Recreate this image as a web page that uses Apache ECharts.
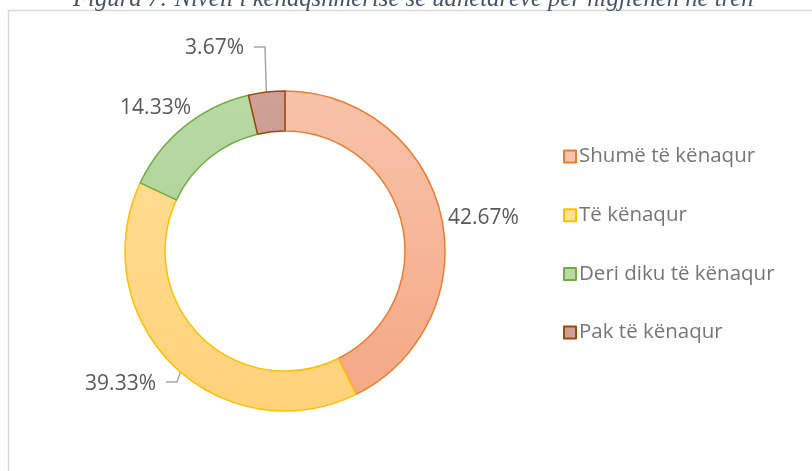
<!DOCTYPE html>
<html>
<head>
<meta charset="utf-8">
<script src="https://cdn.jsdelivr.net/npm/echarts@6/dist/echarts.min.js"></script>
<style>
  html, body { margin: 0; padding: 0; background: #fff; }
  #chart { width: 812px; height: 471px; }
</style>
</head>
<body>
<div id="chart"></div>
<script>
// kategorite dhe vlerat (perqindje)
var categories = ['Shumë të kënaqur', 'Të kënaqur', 'Deri diku të kënaqur', 'Pak të kënaqur'];
var values = [42.67, 39.33, 14.33, 3.67];
var fillTop = ['#F8C3AA', '#FFDF98', '#B9D9A5', '#CFA196'];
var fillBottom = ['#F4A784', '#FFD27A', '#A6CC8E', '#C08A7D'];
var borderColors = ['#ED7D31', '#FFC000', '#70AD47', '#9E480E'];

// pozicionet e etiketave
var labelPos = [
  { x: 448, y: 218, align: 'left' },
  { x: 156, y: 384, align: 'right' },
  { x: 191, y: 108, align: 'right' },
  { x: 244, y: 48, align: 'right' }
];
var labelLines = {
  1: [[166, 382], [177, 382], [187, 353]],
  3: [[254, 47], [265, 47], [267, 113]]
};

var chart = echarts.init(document.getElementById('chart'));

var pieData = categories.map(function (name, i) {
  return {
    name: name,
    value: values[i],
    itemStyle: {
      color: new echarts.graphic.LinearGradient(0, 91, 0, 411, [
        { offset: 0, color: fillTop[i] },
        { offset: 1, color: fillBottom[i] }
      ], true),
      borderColor: borderColors[i],
      borderWidth: 1.5
    },
    labelLine: { show: !!labelLines[i] }
  };
});

chart.setOption({
  animation: false,
  graphic: [
    {
      type: 'rect',
      shape: { x: 8.5, y: 10.5, width: 900, height: 600 },
      style: { fill: 'none', stroke: '#D9D9D9', lineWidth: 1.5 }
    },
    {
      type: 'text',
      x: 73,
      y: -12.5,
      style: {
        text: 'Figura 7: Niveli i kënaqshmërisë së udhëtarëve për higjienën në tren',
        font: 'italic 24.7px "Liberation Serif"',
        fill: '#44546A',
        verticalAlign: 'top'
      }
    }
  ],
  legend: {
    orient: 'vertical',
    left: 558,
    top: 141,
    itemWidth: 12,
    itemHeight: 12,
    itemGap: 37.7,
    icon: 'rect',
    textStyle: { color: '#767676', fontSize: 20.5, fontFamily: 'Open Sans', lineHeight: 20, padding: [0, 0, 0, -2] },
    data: categories
  },
  series: [
    {
      type: 'pie',
      center: [285, 251],
      radius: [120, 160],
      startAngle: 90,
      clockwise: true,
      data: pieData,
      label: {
        show: true,
        position: 'outside',
        formatter: function (p) { return p.value.toFixed(2) + '%'; },
        color: '#595959',
        fontSize: 21,
        fontFamily: 'Open Sans'
      },
      labelLine: {
        show: true,
        lineStyle: { color: '#A6A6A6', width: 1.5 }
      },
      labelLayout: function (params) {
        var i = params.dataIndex;
        var res = {
          x: labelPos[i].x,
          y: labelPos[i].y,
          align: labelPos[i].align,
          verticalAlign: 'middle'
        };
        if (labelLines[i]) res.labelLinePoints = labelLines[i];
        return res;
      }
    }
  ]
});
</script>
</body>
</html>
